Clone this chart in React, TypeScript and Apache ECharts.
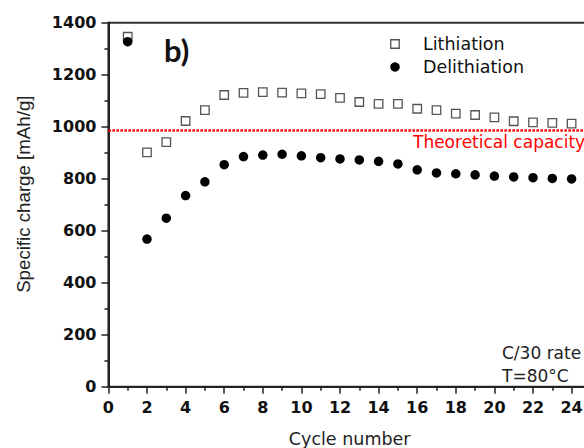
import React, { useEffect, useRef } from "react";
import * as echarts from "echarts";

const cycles = [1, 2, 3, 4, 5, 6, 7, 8, 9, 10, 11, 12, 13, 14, 15, 16, 17, 18, 19, 20, 21, 22, 23, 24];
const lithiation = [1346, 901, 941, 1022, 1064, 1122, 1130, 1133, 1131, 1128, 1125, 1111, 1095, 1088, 1088, 1069, 1064, 1050, 1045, 1036, 1021, 1017, 1015, 1012];
const delithiation = [1327, 568, 648, 735, 788, 854, 885, 891, 894, 888, 881, 876, 872, 867, 857, 834, 822, 819, 815, 810, 807, 804, 801, 799];
const theoreticalCapacity = 987;
const seriesNames = ["Lithiation", "Delithiation"];
const xTitle = "Cycle number";
const yTitle = "Specific charge [mAh/g]";
const notes = ["C/30 rate", "T=80°C"];
const lineLabel = "Theoretical capacity";
const panelLabel = "b)";

const SANS = "'DejaVu Sans', sans-serif";

export default function App() {
  const ref = useRef<HTMLDivElement>(null);
  useEffect(() => {
    if (!ref.current) return;
    const chart = echarts.init(ref.current, undefined, { renderer: "svg" });
    const axisCommon = {
      axisLine: { show: true, onZero: false, lineStyle: { color: "#222", width: 2 } },
      axisTick: { show: true, inside: false, length: 7, lineStyle: { color: "#222", width: 1.5 } },
      minorTick: { show: true, splitNumber: 2, length: 4, lineStyle: { color: "#222", width: 1.5 } },
      splitLine: { show: false },
      minorSplitLine: { show: false },
    };
    chart.setOption({
      animation: false,
      backgroundColor: "#fff",
      grid: {
        left: 108.4,
        top: 22.7,
        width: 482.5,
        height: 364,
        show: true,
        borderColor: "#333",
        borderWidth: 2,
        containLabel: false,
        outerBoundsMode: "none",
      },
      xAxis: {
        type: "value",
        min: 0,
        max: 25,
        interval: 2,
        ...axisCommon,
        axisLabel: {
          margin: 13,
          fontFamily: SANS,
          fontWeight: "bold",
          fontSize: 16,
          color: "#111",
          showMaxLabel: false,
          formatter: (v: number) => String(v),
        },
        name: xTitle,
        nameLocation: "middle",
        nameGap: 43.5,
        nameMoveOverlap: false,
        nameTextStyle: { fontFamily: SANS, fontSize: 17.5, color: "#222" },
      },
      yAxis: {
        type: "value",
        min: 0,
        max: 1400,
        interval: 200,
        ...axisCommon,
        axisLabel: {
          margin: 12,
          fontFamily: SANS,
          fontWeight: "bold",
          fontSize: 16,
          color: "#111",
          formatter: (v: number) => String(v),
        },
        name: yTitle,
        nameLocation: "middle",
        nameRotate: 90,
        nameGap: 75,
        nameMoveOverlap: false,
        nameTextStyle: {
          fontFamily: "'Liberation Sans', Arial, sans-serif",
          fontSize: 18.7,
          color: "#222",
          padding: [0, 0, 0, 21],
        },
      },
      series: [
        {
          type: "scatter",
          name: seriesNames[0],
          data: cycles.map((c, i) => [c, lithiation[i]]),
          symbol: "rect",
          symbolSize: 8.5,
          itemStyle: { color: "#fff", borderColor: "#555", borderWidth: 1.3, opacity: 1 },
          z: 3,
          markLine: {
            silent: true,
            symbol: "none",
            label: { show: false },
            lineStyle: { color: "#ff0000", width: 2.5, type: [2.5, 1.5] },
            data: [{ yAxis: theoreticalCapacity }],
          },
        },
        {
          type: "scatter",
          name: seriesNames[1],
          data: cycles.map((c, i) => [c, delithiation[i]]),
          symbol: "circle",
          symbolSize: 9.5,
          itemStyle: { color: "#000", opacity: 1 },
          z: 4,
        },
      ],
      graphic: [
        {
          type: "rect",
          shape: { x: 390.75, y: 39.75, width: 8.5, height: 8.5 },
          style: { fill: "#fff", stroke: "#555", lineWidth: 1.3 },
        },
        {
          type: "circle",
          shape: { cx: 395, cy: 67, r: 4.75 },
          style: { fill: "#000" },
        },
        {
          type: "text",
          x: 423,
          y: 44,
          style: { text: seriesNames[0], font: `17.5px ${SANS}`, fill: "#111", textVerticalAlign: "middle" },
        },
        {
          type: "text",
          x: 423,
          y: 67,
          style: { text: seriesNames[1], font: `17.5px ${SANS}`, fill: "#111", textVerticalAlign: "middle" },
        },
        {
          type: "text",
          x: 413,
          y: 142,
          style: { text: lineLabel, font: `17px ${SANS}`, fill: "#ff0000", textVerticalAlign: "middle" },
        },
        {
          type: "text",
          x: 502,
          y: 353,
          style: { text: notes[0], font: `17px ${SANS}`, fill: "#222", textVerticalAlign: "middle" },
        },
        {
          type: "text",
          x: 502,
          y: 376,
          style: { text: notes[1], font: `17px ${SANS}`, fill: "#222", textVerticalAlign: "middle" },
        },
        {
          type: "text",
          x: 164,
          y: 50,
          style: { text: panelLabel, font: `bold 31px Lato, sans-serif`, fill: "#111", textVerticalAlign: "middle" },
        },
      ],
    });
    return () => chart.dispose();
  }, []);
  return <div ref={ref} style={{ position: "fixed", left: 0, top: 0, width: 584, height: 448 }} />;
}
